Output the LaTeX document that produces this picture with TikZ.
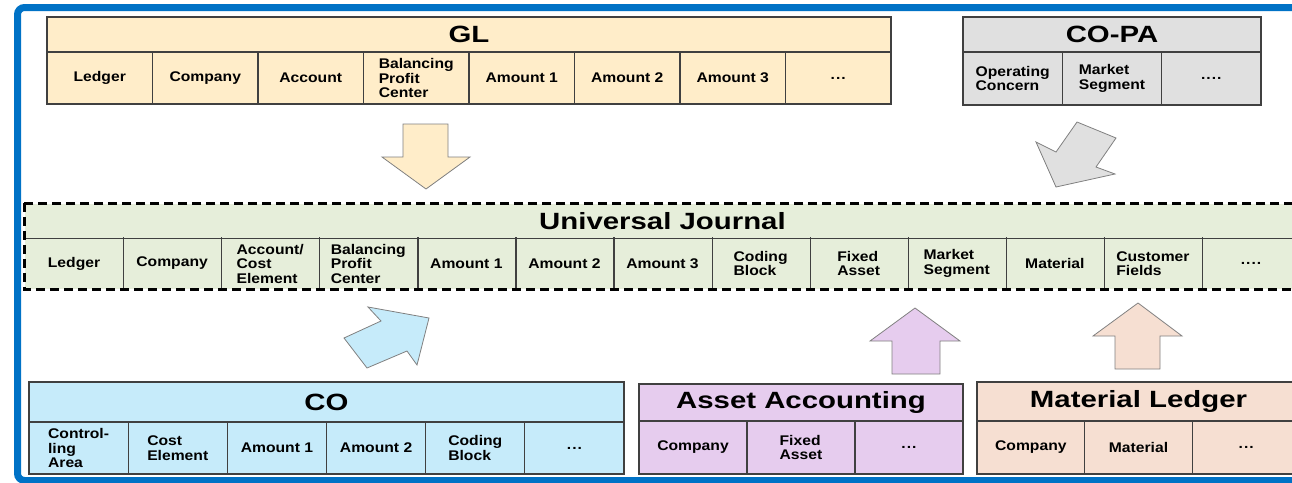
\documentclass[tikz,border=0pt]{standalone}
\usepackage{fontspec}
\setmainfont[FakeStretch=1.12]{Liberation Sans}
\newfontfamily\titlefont[FakeStretch=1.25]{Liberation Sans}

\definecolor{marco}{RGB}{0,114,198}
\definecolor{borde}{RGB}{64,64,64}
\definecolor{glfill}{RGB}{255,237,201}
\definecolor{copafill}{RGB}{224,224,224}
\definecolor{ujfill}{RGB}{230,238,218}
\definecolor{cofill}{RGB}{198,235,250}
\definecolor{aafill}{RGB}{230,204,238}
\definecolor{mlfill}{RGB}{246,223,210}

% puntos suspensivos (fuera de la sintaxis de \foreach)
\newcommand{\ptres}{.\kern1pt.\kern1pt.}
\newcommand{\pcuatro}{.\kern1pt.\kern1pt.\kern1pt.}

\tikzset{
  titulo/.style={draw=borde, line width=1.2, inner sep=0pt, font=\titlefont\bfseries\fontsize{23.5}{28}\selectfont},
  celda/.style={draw=borde, line width=1.2, inner sep=0pt, align=left, font=\bfseries\fontsize{14}{14.5}\selectfont},
  flecha/.style={draw=gray, line width=0.8},
  discontinuo/.style={draw=black, line width=3.5, dash pattern=on 9pt off 5pt}
}

\begin{document}
\begin{tikzpicture}[x=1pt, y=-1pt]

    \useasboundingbox (0,0) rectangle (1292,482);

    % Marco azul
    \draw[marco, line width=7, rounded corners=7] (17.5,7.5) rectangle (1320,480.5);

    % Tabla GL
    \node[titulo, fill=glfill, minimum width=844, minimum height=35] (gl) at (469,34.5) {GL};
    \foreach \t [count=\i] in {Ledger, Company, Account, {Balancing\\Profit\\Center}, Amount 1, Amount 2, Amount 3, \ptres}
        \node[celda, fill=glfill, minimum width=105.5, minimum height=52] (gl\i) at ({47+(\i-0.5)*105.5}, 78) {\t};

    % Tabla CO-PA
    \node[titulo, fill=copafill, minimum width=298, minimum height=35] (copa) at (1112,34.5) {CO-PA};
    \foreach \t [count=\i] in {{Operating\\Concern}, {Market\\Segment}, \pcuatro}
        \node[celda, fill=copafill, minimum width=99.33, minimum height=53] (copa\i) at ({963+(\i-0.5)*99.33}, 78.5) {\t};

    % Universal Journal
    \node[titulo, draw=none, fill=ujfill, minimum width=1275, minimum height=34] (uj) at (662.5,221) {Universal Journal};
    \foreach \t [count=\i] in {Ledger, Company, {Account/\\Cost\\Element}, {Balancing\\Profit\\Center}, Amount 1, Amount 2, Amount 3, {Coding\\Block}, {Fixed\\Asset}, {Market\\Segment}, Material, {Customer\\Fields}, \pcuatro}
        \node[celda, draw=none, fill=ujfill, minimum width=98.08, minimum height=51] (uj\i) at ({25+(\i-0.5)*98.08}, 263.5) {\t};
    \draw[borde, line width=1.2] (uj.south west) -- (uj.south east);
    \foreach \i in {1,...,12}
        \draw[borde, line width=1.2] (uj\i.north east) -- (uj\i.south east);
    \draw[discontinuo] (uj.north west) rectangle (uj13.south east);

    % Tabla CO
    \node[titulo, fill=cofill, minimum width=595, minimum height=40] (co) at (326.5,402) {CO};
    \foreach \t [count=\i] in {{Control-\\ling\\Area}, {Cost\\Element}, Amount 1, Amount 2, {Coding\\Block}, \ptres}
        \node[celda, fill=cofill, minimum width=99.17, minimum height=52] (co\i) at ({29+(\i-0.5)*99.17}, 448) {\t};

    % Tabla Asset Accounting
    \node[titulo, fill=aafill, minimum width=324, minimum height=37] (aa) at (801,402.5) {Asset Accounting};
    \foreach \t [count=\i] in {Company, {Fixed\\Asset}, \ptres}
        \node[celda, fill=aafill, minimum width=108, minimum height=53] (aa\i) at ({639+(\i-0.5)*108}, 447.5) {\t};

    % Tabla Material Ledger
    \node[titulo, fill=mlfill, minimum width=323, minimum height=39] (ml) at (1138.5,401.5) {Material Ledger};
    \foreach \t [count=\i] in {Company, Material, \ptres}
        \node[celda, fill=mlfill, minimum width=107.67, minimum height=53] (ml\i) at ({977+(\i-0.5)*107.67}, 447.5) {\t};

    % Flechas hacia el Universal Journal
    \draw[flecha, fill=glfill] (403,124) -- (448,124) -- (448,157) -- (470,157) -- (426,189) -- (382,157) -- (403,157) -- cycle;
    \draw[flecha, fill=copafill] (1077,122) -- (1116,138) -- (1096,167) -- (1115,174) -- (1056,187) -- (1036,142) -- (1056,152) -- cycle;
    \draw[flecha, fill=cofill] (344,338) -- (381,321) -- (368,307) -- (429,318) -- (417,365) -- (407,351) -- (367,368) -- cycle;
    \draw[flecha, fill=aafill] (892,374) -- (892,341) -- (870,341) -- (915,308) -- (960,341) -- (940,341) -- (940,374) -- cycle;
    \draw[flecha, fill=mlfill] (1115,369) -- (1115,336) -- (1093,336) -- (1138,303) -- (1182,336) -- (1160,336) -- (1160,369) -- cycle;

\end{tikzpicture}
\end{document}
